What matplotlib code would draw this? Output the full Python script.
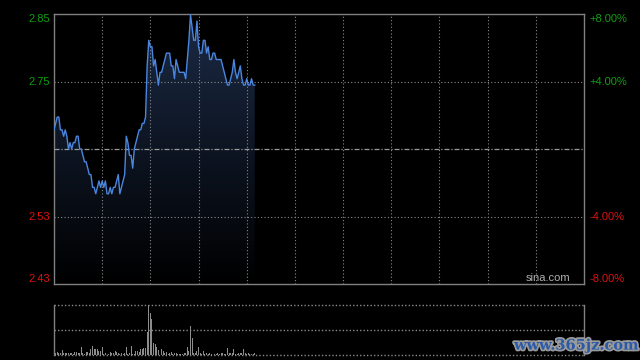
import numpy as np
import matplotlib
matplotlib.use("Agg")
import matplotlib.pyplot as plt
import matplotlib.patheffects as pe
from matplotlib.patches import Polygon

# previous close and minute prices from 9:30 (HK session, 330 minutes)
prev_close = 2.64
prices = [
    2.67, 2.68, 2.69, 2.69, 2.67, 2.67, 2.66, 2.67, 2.66, 2.64,
    2.65, 2.64, 2.65, 2.65, 2.66, 2.66, 2.64, 2.64, 2.63, 2.62,
    2.62, 2.61, 2.60, 2.60, 2.58, 2.58, 2.57, 2.58, 2.59, 2.58,
    2.59, 2.58, 2.59, 2.57, 2.57, 2.58, 2.57, 2.58, 2.58, 2.59,
    2.60, 2.57, 2.58, 2.59, 2.60, 2.66, 2.65, 2.63, 2.63, 2.61,
    2.64, 2.65, 2.66, 2.67, 2.67, 2.68, 2.68, 2.69, 2.77, 2.81,
    2.80, 2.80, 2.77, 2.78, 2.76, 2.74, 2.76, 2.76, 2.77, 2.78,
    2.79, 2.79, 2.79, 2.77, 2.77, 2.75, 2.78, 2.77, 2.76, 2.76,
    2.76, 2.76, 2.75, 2.78, 2.81, 2.85, 2.83, 2.81, 2.81, 2.84,
    2.80, 2.79, 2.79, 2.81, 2.81, 2.79, 2.80, 2.78, 2.78, 2.79,
    2.79, 2.78, 2.78, 2.78, 2.78, 2.77, 2.76, 2.75, 2.74, 2.74,
    2.75, 2.76, 2.78, 2.76, 2.75, 2.76, 2.77, 2.75, 2.74, 2.74,
    2.75, 2.74, 2.74, 2.75, 2.74, 2.74,
]
volumes = [
    24, 4, 5, 4, 3, 10, 4, 4, 3, 3,
    4, 4, 2, 5, 6, 3, 4, 15, 3, 2,
    5, 6, 4, 11, 17, 11, 11, 12, 7, 7,
    15, 2, 3, 7, 2, 5, 4, 3, 8, 5,
    3, 2, 4, 2, 3, 15, 2, 3, 17, 2,
    2, 7, 8, 6, 11, 12, 14, 13, 46, 100,
    84, 72, 24, 22, 16, 10, 11, 12, 7, 4,
    5, 2, 3, 5, 2, 3, 4, 2, 2, 2,
    2, 3, 4, 15, 7, 58, 33, 4, 4, 7,
    15, 4, 2, 7, 2, 3, 2, 4, 2, 2,
    2, 2, 3, 2, 4, 3, 2, 2, 13, 4,
    3, 4, 11, 2, 2, 4, 4, 3, 11, 3,
    2, 3, 2, 2, 2, 3,
]
pct_ticks = [8, 4, -4, -8]
total_minutes = 330

minutes = np.arange(len(prices))
ymin = prev_close * 0.92
ymax = prev_close * 1.08

plt.rcParams['font.family'] = ['Liberation Sans', 'DejaVu Sans']
fig = plt.figure(figsize=(6.4, 3.6), dpi=100, facecolor='black')
ax = fig.add_axes([54 / 640, 76 / 360, 530 / 640, 270 / 360], facecolor='black')
axv = fig.add_axes([54 / 640, 5.5 / 360, 530 / 640, 49.5 / 360], facecolor='black')

ax.set_xlim(0, total_minutes)
ax.set_ylim(ymin, ymax)

# gradient area under the line
grad = np.linspace(1, 0, 256).reshape(-1, 1)
cmap = matplotlib.colors.LinearSegmentedColormap.from_list('g', ['#000000', '#1b2a45'])
img = ax.imshow(grad, extent=[0, minutes[-1], ymin, ymax], aspect='auto',
                cmap=cmap, vmin=0, vmax=1, origin='upper', zorder=1)
poly_pts = np.column_stack([np.r_[minutes, minutes[-1], 0],
                            np.r_[prices, ymin, ymin]])
poly = Polygon(poly_pts, closed=True, facecolor='none', edgecolor='none')
ax.add_patch(poly)
img.set_clip_path(poly)

ax.plot(minutes, prices, color='#4a86e0', lw=1.0, zorder=4)

# grid
for m in range(30, total_minutes, 30):
    ax.axvline(m, color='#8a8a8a', lw=0.8, ls=(0, (1, 2)), zorder=2)
for p in (4, -4):
    ax.axhline(prev_close * (1 + p / 100), color='#8a8a8a', lw=0.8, ls=(0, (1, 2)), zorder=2)
ax.axhline(prev_close, color='#9a9a9a', lw=0.9, ls=(0, (4, 1.5, 1, 1.5)), zorder=3)

ax.set_xticks([])
ax.set_yticks([])
for s in ax.spines.values():
    s.set_color('#808080')
    s.set_linewidth(1.0)

# price / percent labels
for p in pct_ticks:
    val = prev_close * (1 + p / 100)
    col = '#10a010' if p > 0 else '#dd1111'
    va = 'center'
    if p == 8:
        va = 'top'
    elif p == -8:
        va = 'bottom'
    ax.text(-0.008, val, '%.2f' % val, transform=ax.get_yaxis_transform(),
            ha='right', va=va, color=col, fontsize=8)
    ax.text(1.01, val, '%+.2f%%' % p, transform=ax.get_yaxis_transform(),
            ha='left', va=va, color=col, fontsize=8)

ax.text(0.975, 0.005, 'sina.com', transform=ax.transAxes, ha='right', va='bottom',
        color='#b0b0b0', fontsize=8)

# volume panel
axv.bar(minutes, volumes, width=0.6, color='#8c8c8c', zorder=3)
axv.set_xlim(0, total_minutes)
vmax = max(volumes)
axv.set_ylim(0, vmax)
axv.set_xticks([])
axv.set_yticks([])
for v in (0, vmax / 2, vmax):
    axv.axhline(v, color='#8a8a8a', lw=1.0, ls=(0, (1, 1.5)), zorder=2, clip_on=False)
axv.spines['top'].set_visible(False)
axv.spines['bottom'].set_visible(False)
for k in ('left', 'right'):
    axv.spines[k].set_color('#808080')
    axv.spines[k].set_linewidth(1.0)

fig.text(0.998, 0.04, 'www.365jz.com', ha='right', va='center', color='#2a5aa8',
         fontsize=10.5, fontweight='bold', family='DejaVu Serif',
         path_effects=[pe.withStroke(linewidth=2.5, foreground='#9a9a9a')])

fig.savefig('out.png', dpi=100, facecolor='black')
